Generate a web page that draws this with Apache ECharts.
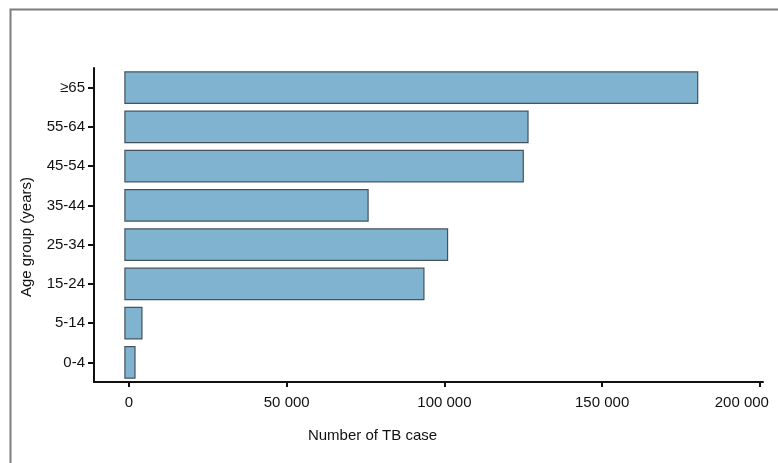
<!DOCTYPE html>
<html>
<head>
<meta charset="utf-8">
<script src="https://cdn.jsdelivr.net/npm/echarts@6/dist/echarts.min.js"></script>
<style>html,body{margin:0;padding:0;background:#fff;}#c{width:778px;height:463px;}</style>
</head>
<body>
<div id="c"></div>
<script>
var categories = ['0-4', '5-14', '15-24', '25-34', '35-44', '45-54', '55-64', '≥65'];
var tbCases = [1900, 4100, 93500, 101000, 75800, 125000, 126500, 180300];
var xTickValues = [0, 50000, 100000, 150000, 200000];
var xTickLabels = ['0', '50 000', '100 000', '150 000', '200 000'];

var BAR_BASE = -1300;
var FONT = 'Liberation Sans';
var TXT = '#111111';

var chart = echarts.init(document.getElementById('c'), null, {renderer: 'canvas'});
chart.setOption({
  animation: false,
  backgroundColor: '#ffffff',
  graphic: [{
    type: 'rect', left: 8, top: 7, silent: true,
    shape: {x: 0, y: 0, width: 790, height: 480},
    style: {fill: 'none', stroke: '#7d7d7d', lineWidth: 2}
  }],
  grid: {left: 94, right: 15, top: 68, bottom: 81, containLabel: false},
  xAxis: {
    type: 'value', min: -11100, max: 201000,
    splitLine: {show: false},
    axisLine: {show: true, onZero: false, lineStyle: {color: '#111', width: 2}},
    axisTick: {show: true, length: 5, lineStyle: {color: '#111', width: 2}, customValues: xTickValues},
    axisLabel: {
      customValues: xTickValues, margin: 13,
      fontFamily: FONT, fontSize: 15, color: TXT,
      formatter: function (v) {
        var i = xTickValues.indexOf(v);
        var s = i >= 0 ? xTickLabels[i] : '';
        return v === xTickValues[xTickValues.length - 1] ? '{m|' + s + '}' : s;
      },
      rich: {m: {fontFamily: FONT, fontSize: 15, color: TXT, padding: [0, 36, 0, 0]}}
    },
    name: 'Number of TB case', nameLocation: 'middle', nameGap: 46,
    nameTextStyle: {fontFamily: FONT, fontSize: 15, color: TXT, padding: [0, 112, 0, 0]}
  },
  yAxis: {
    type: 'category', data: categories, boundaryGap: true,
    axisLine: {show: true, onZero: false, lineStyle: {color: '#111', width: 2}},
    axisTick: {show: true, alignWithLabel: true, length: 6, lineStyle: {color: '#111', width: 2}},
    axisLabel: {margin: 9, fontFamily: FONT, fontSize: 15, color: TXT},
    name: 'Age group (years)', nameLocation: 'middle', nameGap: 60,
    nameTextStyle: {fontFamily: FONT, fontSize: 15, color: TXT, padding: [0, 24, 0, 0]}
  },
  series: [{
    type: 'custom',
    encode: {x: 0, y: 1},
    data: tbCases.map(function (v, i) { return [v, i]; }),
    renderItem: function (params, api) {
      var idx = api.value(1);
      var p0 = api.coord([BAR_BASE, idx]);
      var p1 = api.coord([api.value(0), idx]);
      var h = api.size([0, 1])[1] * 0.8;
      return {
        type: 'rect',
        shape: {x: p0[0], y: p0[1] - h / 2, width: p1[0] - p0[0], height: h},
        style: {fill: '#80b3cf', stroke: '#44525c', lineWidth: 1.2}
      };
    }
  }]
});
</script>
</body>
</html>
